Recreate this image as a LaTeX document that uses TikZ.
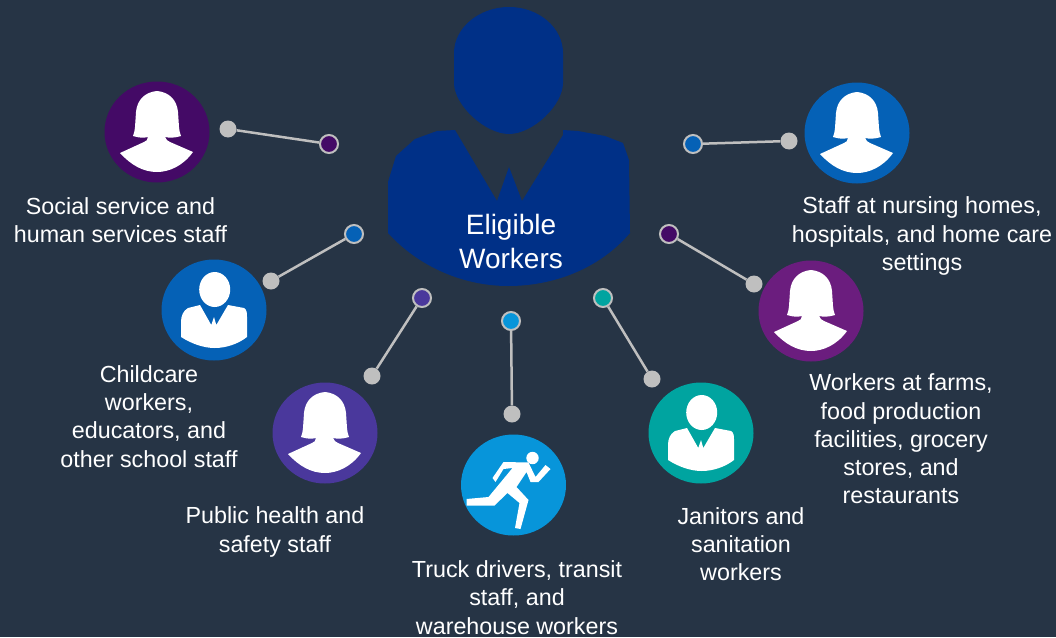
\documentclass[tikz,border=0pt]{standalone}
\usepackage{fontspec}
\setmainfont{Liberation Sans}
\usetikzlibrary{shapes.geometric, positioning}
\definecolor{slate}{HTML}{263445}
\definecolor{navy}{HTML}{003087}
\definecolor{plum}{HTML}{440A66}
\definecolor{royal}{HTML}{0561B6}
\definecolor{indigo}{HTML}{4A389C}
\definecolor{sky}{HTML}{0795DA}
\definecolor{teal2}{HTML}{00A4A0}
\definecolor{violet2}{HTML}{6B1D7E}
\definecolor{stem}{HTML}{BFBFBF}
\tikzstyle{badge} = [ellipse, minimum width=105pt, minimum height=101pt, inner sep=0pt]
\tikzstyle{label} = [align=center, text=white, inner sep=0pt, font=\fontsize{23.3}{28.3}\selectfont]
\tikzstyle{greydot} = [circle, fill=stem, minimum size=17pt, inner sep=0pt]
\tikzstyle{enddot} = [circle, draw=stem, line width=2pt, minimum size=18pt, inner sep=0pt]
\tikzstyle{stemline} = [stem, line width=2.5pt]
\tikzset{
    woman/.pic={
        \fill[white] (-21,-20) .. controls (-20,-32) and (-12,-40) .. (0,-41)
            .. controls (12,-40) and (20,-32) .. (21,-20) -- (22,-5)
            .. controls (22,-2) and (23,1) .. (24,4)
            .. controls (18,6) and (12,6) .. (8,5) .. controls (9,8) and (11,9) .. (13,10)
            -- (36,20) .. controls (26,34) and (12,40) .. (0,40)
            .. controls (-14,40) and (-26,33) .. (-37,21) -- (-13,10)
            .. controls (-11,9) and (-9,8) .. (-9,5)
            .. controls (-13,6) and (-18,6) .. (-24,4)
            .. controls (-23,1) and (-22,-2) .. (-22,-5) -- cycle;
    },
    man/.pic={
        \fill[white] (0.7,-20.5) ellipse [x radius=15.5, y radius=17.5];
        \fill[white] (-14,-5) -- (-26,-2) .. controls (-31,1) and (-33,6) .. (-33,12) -- (-33,27)
            .. controls (-22,34) and (-10,38) .. (0.7,38)
            .. controls (12,38) and (24,34) .. (33,27) -- (33,7)
            .. controls (33,3) and (33,0) .. (30,-2) -- (14,-5)
            -- (2.3,15) -- (0,7) -- (-2.7,15) -- cycle;
    },
    runner/.pic={
        \fill[white] (19,-27) circle (6.2);
        \fill[white] (-21,-7) -- (-10,-23) -- (15,-22.5) -- (22,-8) -- (32,-20) -- (37,-16)
            -- (25,-3) -- (17,-3) -- (13,-13) -- (3,2) -- (15,15) -- (7,44) -- (1.5,43)
            -- (6,18) -- (-6,8) -- (-19,20.5) -- (-47,20.7) -- (-47,14) -- (-25,12)
            -- (-1,-17) -- (-10,-16) -- (-18,-3) -- cycle;
    }
}
\begin{document}
\begin{tikzpicture}[x=1pt, y=-1pt]
        \fill[slate] (0,0) rectangle (1056,637);
        \useasboundingbox (0,0) rectangle (1056,637);

        \fill[navy] (509,7) .. controls (539,7) and (563,28) .. (563,53) -- (563,83)
            .. controls (563,105) and (533,134) .. (509,134)
            .. controls (485,134) and (454,105) .. (454,83) -- (454,53)
            .. controls (454,28) and (479,7) .. (509,7) -- cycle;
        \fill[navy] (455,130) -- (437,131) -- (415,139) -- (396,156) -- (388,182) -- (388,233)
            .. controls (420,268) and (465,286) .. (508,286)
            .. controls (555,286) and (600,268) .. (630,233)
            -- (629,160) -- (623,143) -- (605,136) -- (578,131) -- (563,130) -- (563,135)
            -- (522,201) -- (509,167) -- (497,201) -- cycle;
        \node (eligible) at (511,241.5) [align=center, text=white, font=\fontsize{28}{34}\selectfont] {Eligible\\Workers};

        \node (social) at (157,132) [badge, fill=plum] {};
        \node (childcare) at (214,310) [badge, fill=royal] {};
        \node (public) at (325,433) [badge, fill=indigo] {};
        \node (truck) at (513.5,485) [badge, fill=sky] {};
        \node (janitors) at (701,433) [badge, fill=teal2] {};
        \node (farm) at (811,311) [badge, fill=violet2] {};
        \node (nursing) at (857,133) [badge, fill=royal] {};

        \pic at (social) {woman};
        \pic at (childcare) {man};
        \pic at (public) {woman};
        \pic at (truck) {runner};
        \pic at (janitors) {man};
        \pic at (farm) {woman};
        \pic at (nursing) {woman};

        \node (socialtext) at ([shift={(-36.5,88)}]social) [label] {Social service and\\human services staff};
        \node (childcaretext) at ([shift={(-65,106.5)}]childcare) [label] {Childcare\\workers,\\educators, and\\other school staff};
        \node (publictext) at ([shift={(-50,99)}]public) [label] {Public health and\\safety staff};
        \node (trucktext) at ([shift={(3.5,112.5)}]truck) [label] {Truck drivers, transit\\staff, and\\warehouse workers};
        \node (janitorstext) at ([shift={(40,111)}]janitors) [label] {Janitors and\\sanitation\\workers};
        \node (farmtext) at ([shift={(90,128)}]farm) [label] {Workers at farms,\\food production\\facilities, grocery\\stores, and\\restaurants};
        \node (nursingtext) at ([shift={(65,103)}]nursing) [label] {Staff at nursing homes,\\hospitals, and home care\\settings};

        \node (socialdot) at ([shift={(71,-3)}]social) [greydot] {};
        \node (childcaredot) at ([shift={(57,-29)}]childcare) [greydot] {};
        \node (publicdot) at ([shift={(47,-57)}]public) [greydot] {};
        \node (truckdot) at ([shift={(-1.5,-71)}]truck) [greydot] {};
        \node (janitorsdot) at ([shift={(-49,-54)}]janitors) [greydot] {};
        \node (farmdot) at ([shift={(-57,-27)}]farm) [greydot] {};
        \node (nursingdot) at ([shift={(-68,8)}]nursing) [greydot] {};

        \node (socialend) at (329,144) [enddot, fill=plum] {};
        \node (childcareend) at (354,234) [enddot, fill=royal] {};
        \node (publicend) at (422,298) [enddot, fill=indigo] {};
        \node (truckend) at (511,321) [enddot, fill=sky] {};
        \node (janitorsend) at (603,298) [enddot, fill=teal2] {};
        \node (farmend) at (669,234) [enddot, fill=plum] {};
        \node (nursingend) at (693,144) [enddot, fill=royal] {};

        \draw [stemline] (socialdot) -- (socialend);
        \draw [stemline] (childcaredot) -- (childcareend);
        \draw [stemline] (publicdot) -- (publicend);
        \draw [stemline] (truckdot) -- (truckend);
        \draw [stemline] (janitorsdot) -- (janitorsend);
        \draw [stemline] (farmdot) -- (farmend);
        \draw [stemline] (nursingdot) -- (nursingend);
    \end{tikzpicture}
\end{document}
